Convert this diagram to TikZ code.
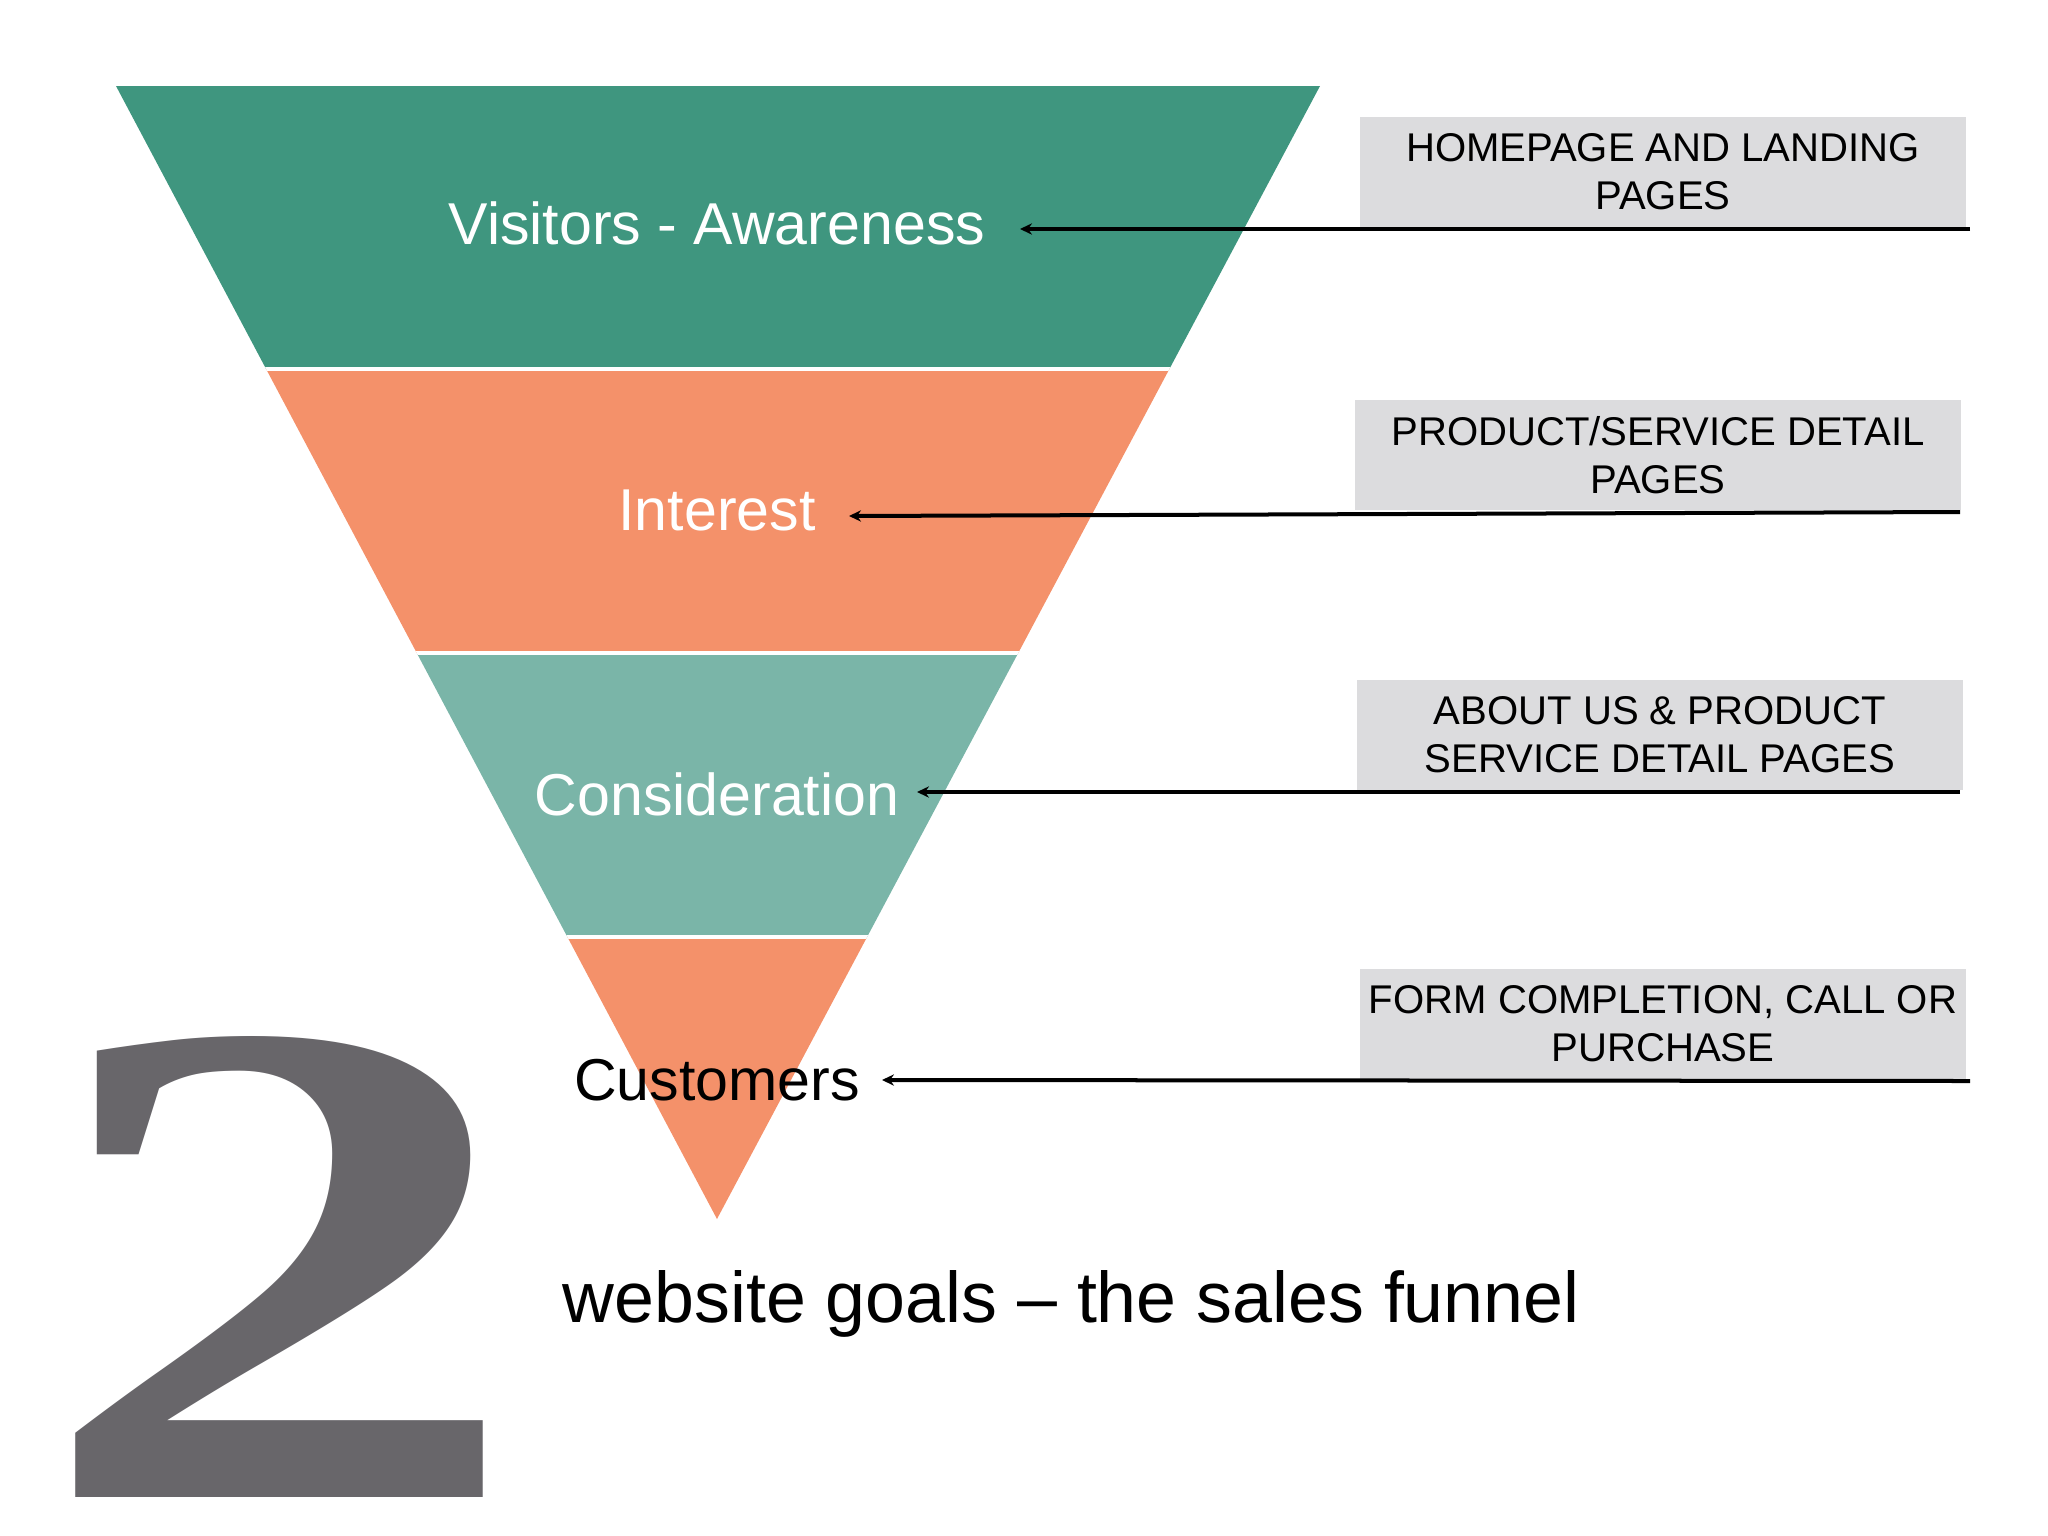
\documentclass[tikz,border=0pt]{standalone}
\usepackage{fontspec}
\usepackage{graphicx}
\setmainfont{Liberation Sans}
\newfontfamily\digitfont{Liberation Serif}
\usetikzlibrary{arrows.meta}
\definecolor{fgreen}{RGB}{63,150,127}
\definecolor{forange}{RGB}{244,145,106}
\definecolor{fteal}{RGB}{122,181,168}
\definecolor{boxgray}{RGB}{220,220,222}
\definecolor{digitgray}{RGB}{104,102,106}

\begin{document}
\begin{tikzpicture}[x=0.01cm, y=-0.01cm,
    stage/.style={text=white, inner sep=0pt, anchor=base, font=\fontsize{16.8}{20}\selectfont},
    page/.style={fill=boxgray, minimum width=6.05cm, minimum height=1.1cm, inner sep=0pt,
      align=center, font=\fontsize{11.4}{13.7}\selectfont},
    goal/.style={line width=0.04cm, -{Stealth[length=3.4pt,width=3.2pt]}},
    bignum/.style={inner sep=0pt, anchor=base west, font=\digitfont\bfseries\fontsize{198}{200}\selectfont}]
  \useasboundingbox (0,0) rectangle (2048,1536);
  \coordinate (t1) at (116,86);
  \coordinate (t2) at (1320,86);
  \coordinate (t3) at (717,1219);
  \begin{scope}
    \clip (t1) -- (t2) -- (t3) -- cycle;
    \fill [fgreen] (0,0) rectangle (2048,369);
    \fill [forange] (0,369) rectangle (2048,653);
    \fill [fteal] (0,653) rectangle (2048,937);
    \fill [forange] (0,937) rectangle (2048,1240);
    \draw [white, line width=0.043cm] (0,369) -- (2048,369) (0,653) -- (2048,653) (0,937) -- (2048,937);
  \end{scope}
  \node [stage] (s1) at (717,244) {Visitors - Awareness};
  \node [stage] (s2) at (717,530) {Interest};
  \node [stage] (s3) at (717,815) {Consideration};
  \node [stage, text=black] (s4) at (717,1100) {Customers};
  \node [page] (p1) at (1663,172) {HOMEPAGE AND LANDING\\PAGES};
  \node [page] (p2) at (1658,455) {PRODUCT/SERVICE DETAIL\\PAGES};
  \node [page] (p3) at (1660,735) {ABOUT US \& PRODUCT\\SERVICE DETAIL PAGES};
  \node [page] (p4) at (1663,1024) {FORM COMPLETION, CALL OR\\PURCHASE};
  \coordinate (b1) at (1970,229);
  \coordinate (c1) at (1020,229);
  \coordinate (b2) at (1960,512);
  \coordinate (c2) at (849,516);
  \coordinate (b3) at (1960,792);
  \coordinate (c3) at (917,792);
  \coordinate (b4) at (1970,1081);
  \coordinate (c4) at (882,1080);
  \draw [goal] (b1) -- (c1);
  \draw [goal] (b2) -- (c2);
  \draw [goal] (b3) -- (c3);
  \draw [goal] (b4) -- (c4);
  \node [bignum, text=digitgray] (n2) at (34,1497) {\scalebox{1.41}[1]{2}};
  \node [inner sep=0pt, anchor=base west, font=\fontsize{20.4}{24}\selectfont] (g) at (562,1322) {website goals – the sales funnel};
\end{tikzpicture}
\end{document}
